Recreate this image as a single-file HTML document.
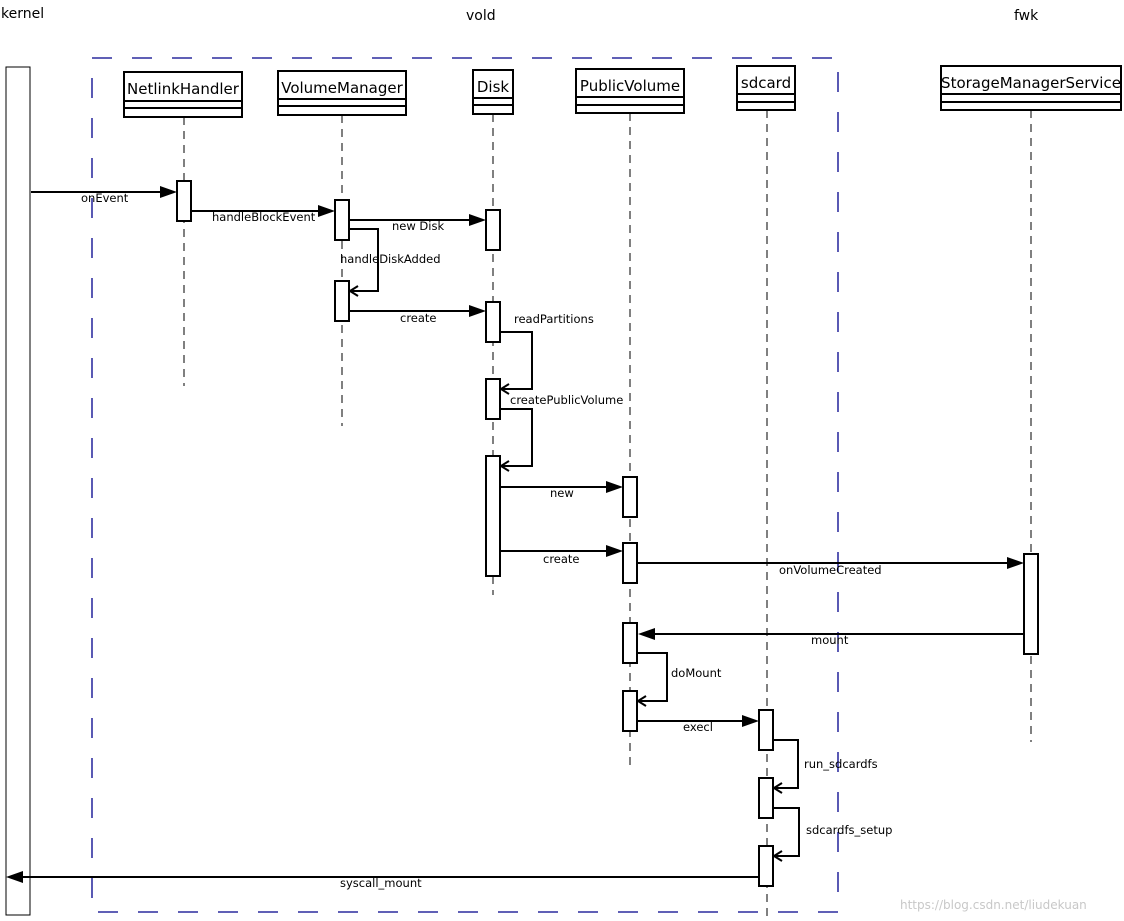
<!DOCTYPE html>
<html><head><style>
html,body{margin:0;padding:0;background:#fff;}
svg{display:block;font-family:"DejaVu Sans","Liberation Sans",sans-serif;}
.b{fill:#fff;stroke:#000;stroke-width:2;}
.ll{stroke:#000;stroke-width:1;stroke-dasharray:8,6;}
.m{stroke:#000;stroke-width:2;fill:none;}
.t{font-size:11.5px;fill:#000;}
.h{font-size:15px;fill:#000;}
.oa{stroke:#000;stroke-width:2;fill:none;}
</style></head><body>
<svg width="1124" height="921" viewBox="0 0 1124 921" xmlns="http://www.w3.org/2000/svg">
<rect width="1124" height="921" fill="#fff"/>
<text x="1" y="18" font-size="14">kernel</text>
<text x="466" y="20" font-size="14">vold</text>
<text x="1014" y="20" font-size="14">fwk</text>
<rect x="92" y="58" width="746" height="854" fill="none" stroke="#00008b" stroke-width="1.3" stroke-dasharray="20,20"/>
<rect x="6" y="67" width="24" height="848" fill="#fff" stroke="#000" stroke-width="1"/>
<line class="ll" x1="184" y1="117" x2="184" y2="386"/>
<line class="ll" x1="342" y1="115" x2="342" y2="426"/>
<line class="ll" x1="493" y1="114" x2="493" y2="595"/>
<line class="ll" x1="630" y1="113" x2="630" y2="765"/>
<line class="ll" x1="767" y1="110" x2="767" y2="921"/>
<line class="ll" x1="1031" y1="110" x2="1031" y2="742"/>
<g>
<rect class="b" x="124" y="72" width="118" height="45"/><line class="m" x1="124" y1="101" x2="242" y2="101"/><line class="m" x1="124" y1="108" x2="242" y2="108"/>
<text x="183" y="94" class="h" text-anchor="middle">NetlinkHandler</text>
<rect class="b" x="278" y="71" width="128" height="44"/><line class="m" x1="278" y1="99" x2="406" y2="99"/><line class="m" x1="278" y1="106" x2="406" y2="106"/>
<text x="342" y="93" class="h" text-anchor="middle">VolumeManager</text>
<rect class="b" x="473" y="70" width="40" height="44"/><line class="m" x1="473" y1="98" x2="513" y2="98"/><line class="m" x1="473" y1="105" x2="513" y2="105"/>
<text x="493" y="92" class="h" text-anchor="middle">Disk</text>
<rect class="b" x="576" y="69" width="108" height="44"/><line class="m" x1="576" y1="97" x2="684" y2="97"/><line class="m" x1="576" y1="105" x2="684" y2="105"/>
<text x="630" y="91" class="h" text-anchor="middle">PublicVolume</text>
<rect class="b" x="737" y="66" width="58" height="44"/><line class="m" x1="737" y1="94" x2="795" y2="94"/><line class="m" x1="737" y1="102" x2="795" y2="102"/>
<text x="766" y="88" class="h" text-anchor="middle">sdcard</text>
<rect class="b" x="941" y="66" width="180" height="44"/><line class="m" x1="941" y1="94" x2="1121" y2="94"/><line class="m" x1="941" y1="102" x2="1121" y2="102"/>
<text x="1031" y="88" class="h" text-anchor="middle">StorageManagerService</text>
</g>
<g>
<line class="m" x1="31" y1="192" x2="162" y2="192"/><polygon points="177,192 160,186 160,198"/>
<line class="m" x1="191" y1="211" x2="320" y2="211"/><polygon points="335,211 318,205 318,217"/>
<line class="m" x1="349" y1="220" x2="471" y2="220"/><polygon points="486,220 469,214 469,226"/>
<polyline class="m" points="349,229 378,229 378,291 350,291"/><polyline class="oa" points="358,286 350,291 358,296"/>
<line class="m" x1="349" y1="311" x2="471" y2="311"/><polygon points="486,311 469,305 469,317"/>
<polyline class="m" points="500,332 532,332 532,389 501,389"/><polyline class="oa" points="509,384 501,389 509,394"/>
<polyline class="m" points="500,409 532,409 532,466 501,466"/><polyline class="oa" points="509,461 501,466 509,471"/>
<line class="m" x1="500" y1="487" x2="608" y2="487"/><polygon points="623,487 606,481 606,493"/>
<line class="m" x1="500" y1="551" x2="608" y2="551"/><polygon points="623,551 606,545 606,557"/>
<line class="m" x1="637" y1="563" x2="1009" y2="563"/><polygon points="1024,563 1007,557 1007,569"/>
<line class="m" x1="1024" y1="634" x2="652" y2="634"/><polygon points="638,634 655,628 655,640"/>
<polyline class="m" points="637,653 667,653 667,701 638,701"/><polyline class="oa" points="646,696 638,701 646,706"/>
<line class="m" x1="637" y1="721" x2="744" y2="721"/><polygon points="759,721 742,715 742,727"/>
<polyline class="m" points="773,740 798,740 798,788 774,788"/><polyline class="oa" points="782,783 774,788 782,793"/>
<polyline class="m" points="773,808 799,808 799,856 774,856"/><polyline class="oa" points="782,851 774,856 782,861"/>
<line class="m" x1="759" y1="877" x2="20" y2="877"/><polygon points="6,877 23,871 23,883"/>
</g>
<g>
<rect class="b" x="177" y="181" width="14" height="40"/>
<rect class="b" x="335" y="200" width="14" height="40"/>
<rect class="b" x="335" y="281" width="14" height="40"/>
<rect class="b" x="486" y="210" width="14" height="40"/>
<rect class="b" x="486" y="302" width="14" height="40"/>
<rect class="b" x="486" y="379" width="14" height="40"/>
<rect class="b" x="486" y="456" width="14" height="120"/>
<rect class="b" x="623" y="477" width="14" height="40"/>
<rect class="b" x="623" y="543" width="14" height="40"/>
<rect class="b" x="623" y="623" width="14" height="40"/>
<rect class="b" x="623" y="691" width="14" height="40"/>
<rect class="b" x="759" y="710" width="14" height="40"/>
<rect class="b" x="759" y="778" width="14" height="40"/>
<rect class="b" x="759" y="846" width="14" height="40"/>
<rect class="b" x="1024" y="554" width="14" height="100"/>
</g>
<g class="t">
<text x="81" y="202">onEvent</text>
<text x="212" y="221">handleBlockEvent</text>
<text x="392" y="230">new Disk</text>
<text x="340" y="263">handleDiskAdded</text>
<text x="400" y="322">create</text>
<text x="514" y="323">readPartitions</text>
<text x="510" y="404">createPublicVolume</text>
<text x="550" y="497">new</text>
<text x="543" y="563">create</text>
<text x="779" y="574">onVolumeCreated</text>
<text x="811" y="644">mount</text>
<text x="671" y="677">doMount</text>
<text x="683" y="731">execl</text>
<text x="804" y="768">run_sdcardfs</text>
<text x="806" y="834">sdcardfs_setup</text>
<text x="340" y="887">syscall_mount</text>
</g>
<text x="900" y="909" font-size="12" fill="#c8c8c8">https://blog.csdn.net/liudekuan</text>
</svg>
</body></html>
